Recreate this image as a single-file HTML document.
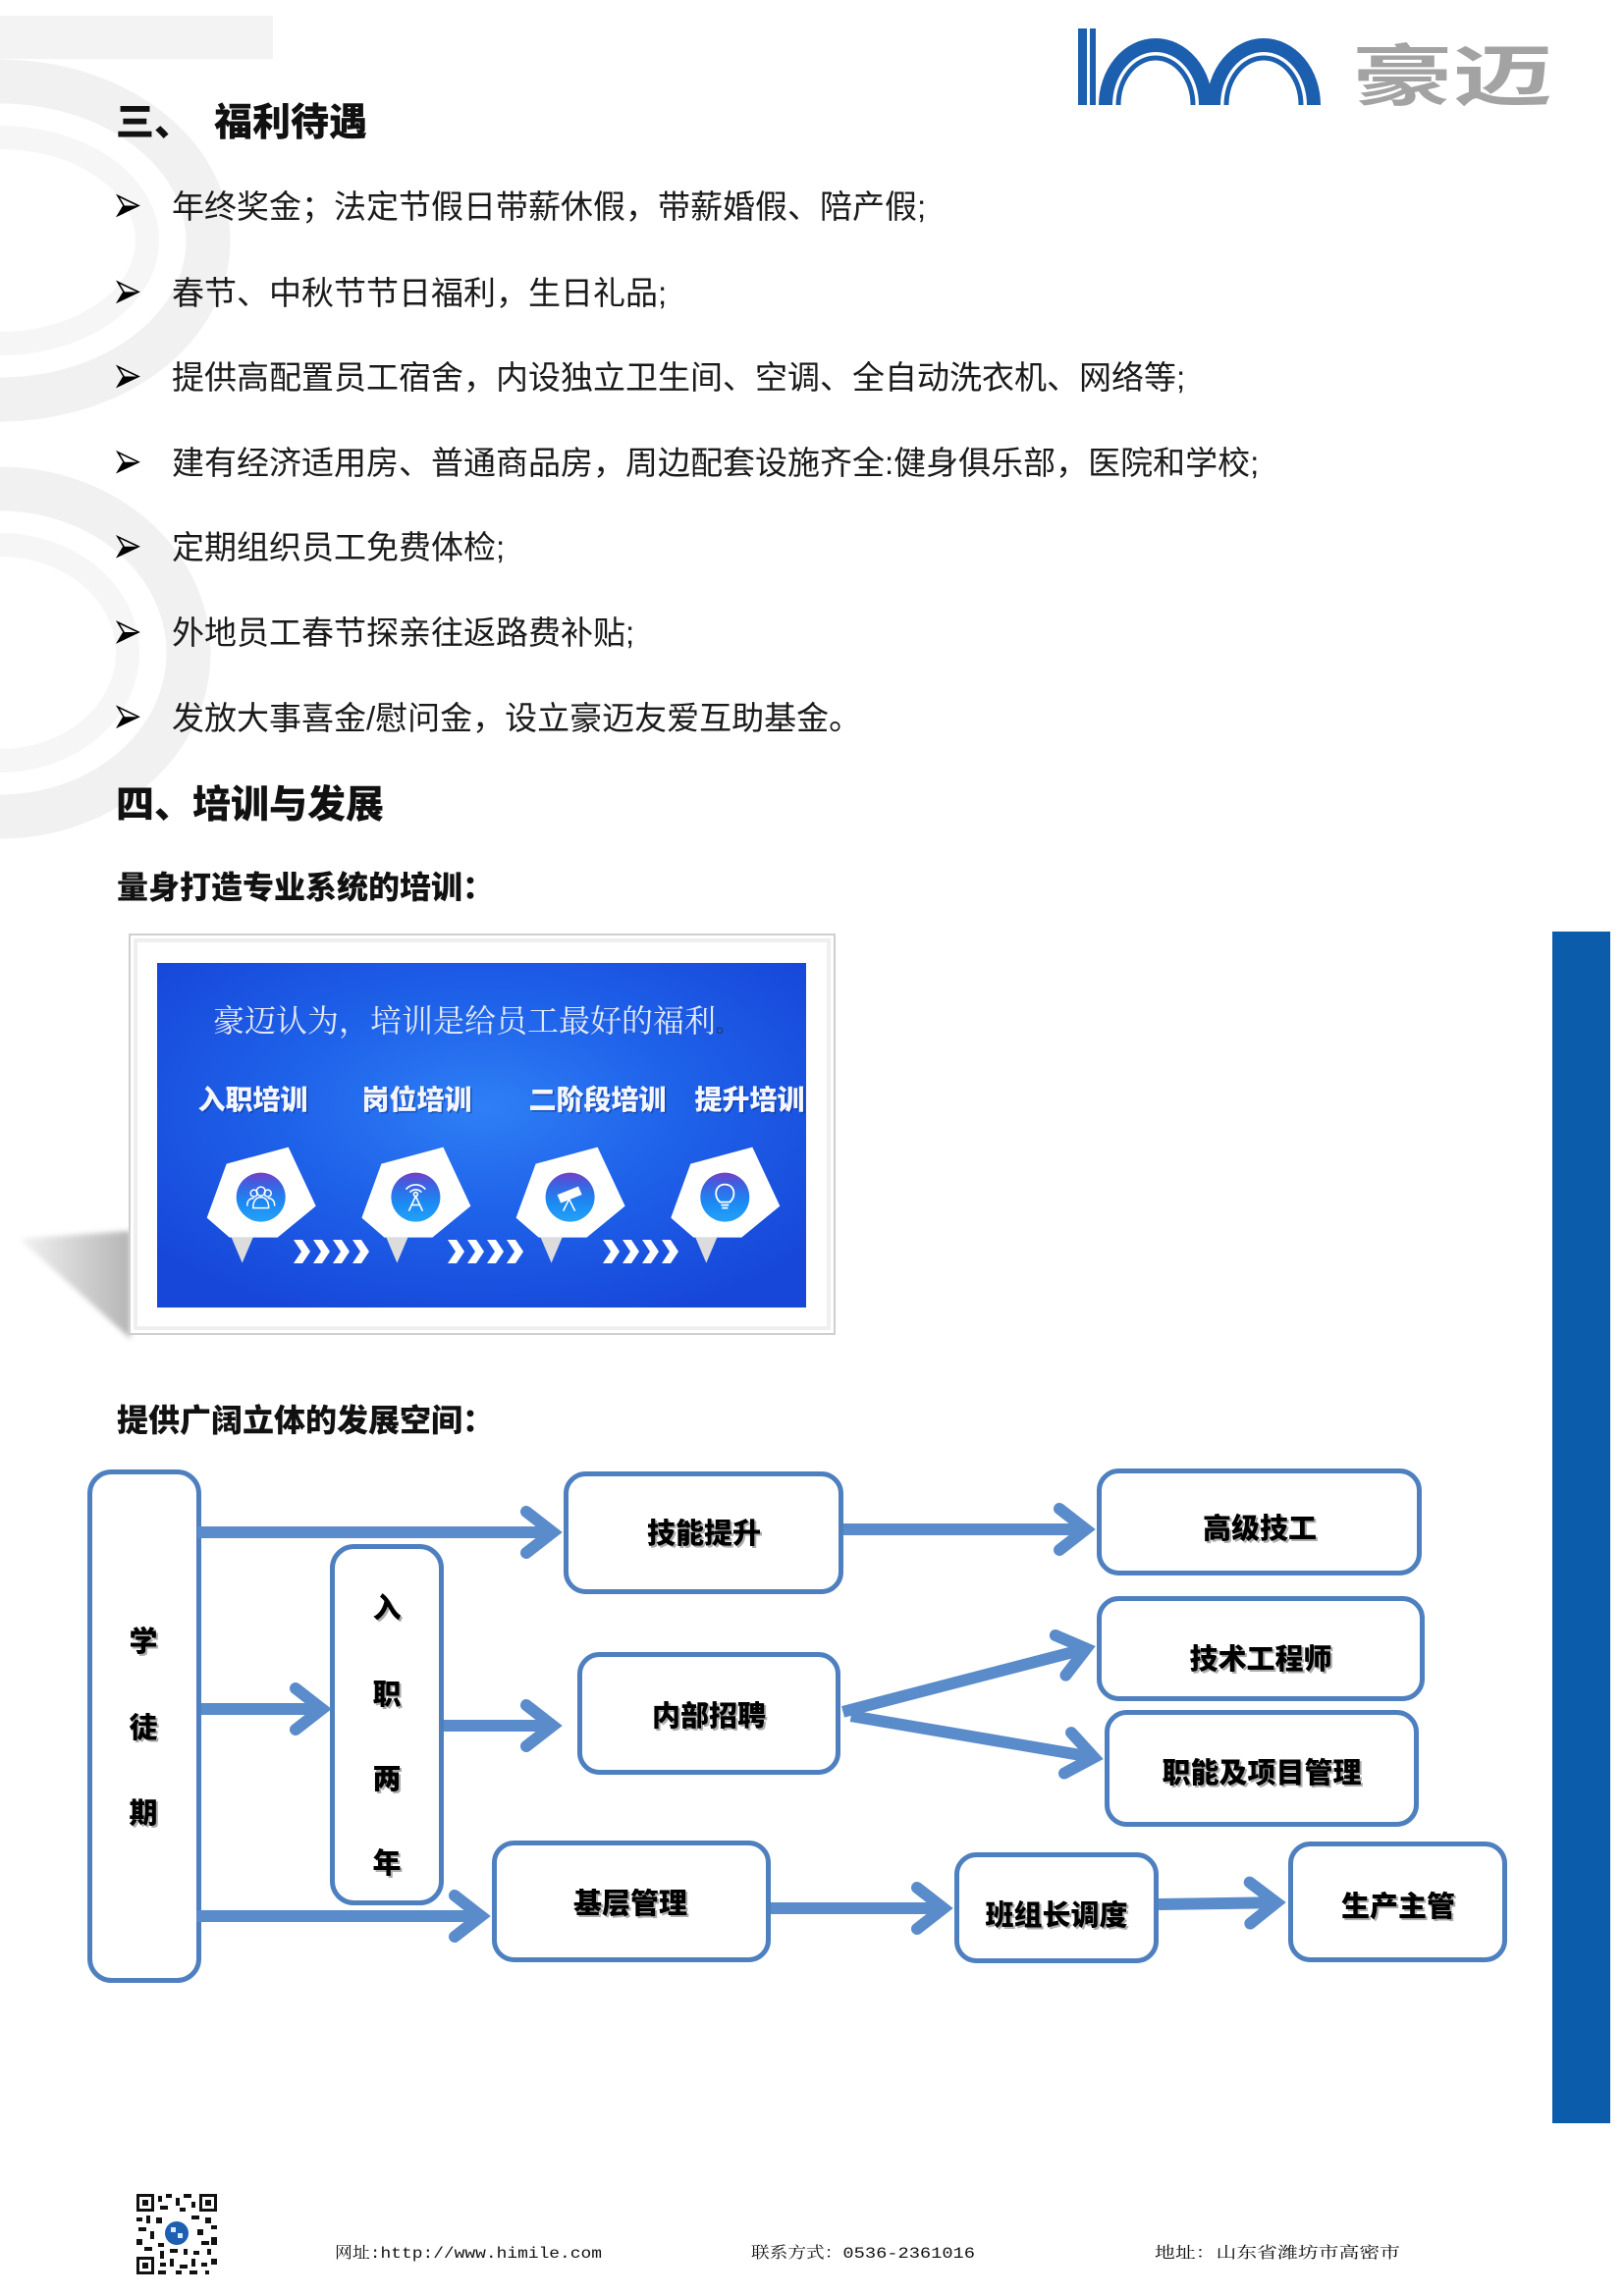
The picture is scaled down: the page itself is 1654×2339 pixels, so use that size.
<!DOCTYPE html>
<html>
<head>
<meta charset="utf-8">
<style>
  html, body { margin:0; padding:0; background:#ffffff; }
  body { width:1654px; height:2339px; overflow:hidden; position:relative; }
  svg { position:absolute; left:0; top:0; }
</style>
</head>
<body>
<svg width="1654" height="2339" viewBox="0 0 1654 2339" xmlns="http://www.w3.org/2000/svg" font-family="'Liberation Sans','Noto Sans CJK SC',sans-serif">
  <defs>
    <radialGradient id="blueBg" cx="50%" cy="42%" r="65%">
      <stop offset="0%" stop-color="#2f7ff6"/>
      <stop offset="45%" stop-color="#1f63ea"/>
      <stop offset="100%" stop-color="#1747d9"/>
    </radialGradient>
    <linearGradient id="circ" x1="0" y1="0" x2="0" y2="1">
      <stop offset="0%" stop-color="#7a3ec6"/>
      <stop offset="22%" stop-color="#3f5fe0"/>
      <stop offset="60%" stop-color="#1b88f3"/>
      <stop offset="100%" stop-color="#24a2f8"/>
    </linearGradient>
    <linearGradient id="shadowG" x1="0" y1="0" x2="1" y2="0">
      <stop offset="0%" stop-color="#f2f2f2"/>
      <stop offset="100%" stop-color="#b5b5b5"/>
    </linearGradient>
    <filter id="blur3"><feGaussianBlur stdDeviation="3"/></filter>
  </defs>

  <!-- background decoration -->
  <rect x="0" y="16" width="278" height="44" fill="#f3f3f3"/>
  <path d="M0,83 A212,162 0 0 1 0,407" fill="none" stroke="#f1f1f1" stroke-width="45"/>
  <path d="M0,140 A150,105 0 0 1 0,350" fill="none" stroke="#f6f6f6" stroke-width="24"/>
  <path d="M0,498 A192,167 0 0 1 0,832" fill="none" stroke="#f1f1f1" stroke-width="45"/>
  <path d="M0,555 A130,110 0 0 1 0,775" fill="none" stroke="#f6f6f6" stroke-width="24"/>

  <!-- logo -->
  <g fill="#1c5fae">
    <rect x="1098" y="29" width="9" height="78"/>
    <rect x="1110" y="29" width="6" height="78"/>
  </g>
  <g fill="none" stroke="#1c5fae">
    <path d="M1126,107 A51,61 0 0 1 1228,107" stroke-width="14"/>
    <path d="M1139,107 A38,48 0 0 1 1215,107" stroke-width="5"/>
    <path d="M1236,107 A51,61 0 0 1 1338,107" stroke-width="14"/>
    <path d="M1249,107 A38,48 0 0 1 1325,107" stroke-width="5"/>
  </g>
  <text x="1377" y="102" font-size="68" font-weight="700" fill="#a3a3a3" textLength="205" lengthAdjust="spacingAndGlyphs">豪迈</text>

  <!-- Section 3 heading -->
  <text x="118" y="138" font-size="39" font-weight="900" fill="#111">三、</text>
  <text x="218" y="138" font-size="39" font-weight="900" fill="#111">福利待遇</text>

  <!-- bullets -->
  <g fill="#1a1a1a" font-size="33">
    <text x="175" y="222">年终奖金；法定节假日带薪休假，带薪婚假、陪产假;</text>
    <text x="175" y="310">春节、中秋节节日福利，生日礼品;</text>
    <text x="175" y="396">提供高配置员工宿舍，内设独立卫生间、空调、全自动洗衣机、网络等;</text>
    <text x="175" y="483">建有经济适用房、普通商品房，周边配套设施齐全:健身俱乐部，医院和学校;</text>
    <text x="175" y="569">定期组织员工免费体检;</text>
    <text x="175" y="656">外地员工春节探亲往返路费补贴;</text>
    <text x="175" y="743">发放大事喜金/慰问金，设立豪迈友爱互助基金。</text>
  </g>
  <g>
    <path d="M120,199.5 L141,209.5 L120,219.5 L126,209.5 Z" fill="none" stroke="#000" stroke-width="1.6" stroke-linejoin="miter"/>
    <path d="M126,209.5 L141,209.5 L120,219.5 Z" fill="#000"/>
    <path d="M120,287.4 L141,297.4 L120,307.4 L126,297.4 Z" fill="none" stroke="#000" stroke-width="1.6"/>
    <path d="M126,297.4 L141,297.4 L120,307.4 Z" fill="#000"/>
    <path d="M120,373.5 L141,383.5 L120,393.5 L126,383.5 Z" fill="none" stroke="#000" stroke-width="1.6"/>
    <path d="M126,383.5 L141,383.5 L120,393.5 Z" fill="#000"/>
    <path d="M120,460.7 L141,470.7 L120,480.7 L126,470.7 Z" fill="none" stroke="#000" stroke-width="1.6"/>
    <path d="M126,470.7 L141,470.7 L120,480.7 Z" fill="#000"/>
    <path d="M120,546.8 L141,556.8 L120,566.8 L126,556.8 Z" fill="none" stroke="#000" stroke-width="1.6"/>
    <path d="M126,556.8 L141,556.8 L120,566.8 Z" fill="#000"/>
    <path d="M120,634 L141,644 L120,654 L126,644 Z" fill="none" stroke="#000" stroke-width="1.6"/>
    <path d="M126,644 L141,644 L120,654 Z" fill="#000"/>
    <path d="M120,720.2 L141,730.2 L120,740.2 L126,730.2 Z" fill="none" stroke="#000" stroke-width="1.6"/>
    <path d="M126,730.2 L141,730.2 L120,740.2 Z" fill="#000"/>
  </g>

  <!-- Section 4 -->
  <text x="118" y="833" font-size="39" font-weight="900" fill="#111">四、培训与发展</text>
  <text x="119" y="915" font-size="32" font-weight="900" fill="#111">量身打造专业系统的培训：</text>

  <!-- training picture -->
  <polygon points="20,1262 133,1254 133,1364" fill="url(#shadowG)" filter="url(#blur3)"/>
  <rect x="132" y="952" width="718" height="407" fill="#ffffff" stroke="#cfcfcf" stroke-width="2"/>
  <rect x="138" y="958" width="706" height="395" fill="none" stroke="#efefef" stroke-width="4"/>
  <rect x="160" y="981" width="661" height="351" fill="url(#blueBg)"/>

  <text x="217" y="1051" font-size="32" font-family="'Liberation Serif','Noto Serif CJK SC',serif" fill="#e4e9f6">豪迈认为，培训是给员工最好的福利<tspan fill="#2a2a2a" font-size="22">。</tspan></text>

  <g font-size="28" font-weight="900" text-anchor="middle">
    <g fill="#0b2a80" opacity="0.5" transform="translate(1.5,1.5)">
      <text x="257.5" y="1130">入职培训</text>
      <text x="424.5" y="1130">岗位培训</text>
      <text x="608.5" y="1130">二阶段培训</text>
      <text x="763.5" y="1130">提升培训</text>
    </g>
    <g fill="#f4f7ff">
      <text x="257.5" y="1130">入职培训</text>
      <text x="424.5" y="1130">岗位培训</text>
      <text x="608.5" y="1130">二阶段培训</text>
      <text x="763.5" y="1130">提升培训</text>
    </g>
  </g>

  <!-- pentagon icons -->
  <g id="ic1" transform="translate(265.7,1219.6)">
    <polygon points="-30,41 -8,41 -19,67" fill="#dcdcdc"/>
    <polygon points="-35,-34 28,-51 56,9 17,41 -32,41 -55,21" fill="#ffffff"/>
    <circle r="25" fill="url(#circ)"/>
    <g fill="none" stroke="#ffffff" stroke-width="1.5">
      <circle cx="-7" cy="-4" r="3.5"/><circle cx="7" cy="-4" r="3.5"/><circle cx="0" cy="-6" r="4.5"/>
      <path d="M-14,9 C-14,2 -10,1 -7,1 M14,9 C14,2 10,1 7,1 M-8,11 C-8,3 -4,0 0,0 C4,0 8,3 8,11 Z"/>
    </g>
  </g>
  <g transform="translate(423.4,1219.6)">
    <polygon points="-30,41 -8,41 -19,67" fill="#dcdcdc"/>
    <polygon points="-35,-34 28,-51 56,9 17,41 -32,41 -55,21" fill="#ffffff"/>
    <circle r="25" fill="url(#circ)"/>
    <g fill="none" stroke="#ffffff" stroke-width="1.6">
      <path d="M-10,-8 A13,13 0 0 1 10,-8 M-6,-5 A8,8 0 0 1 6,-5"/>
      <circle cx="0" cy="-3" r="2"/>
      <path d="M0,-1 L-7,14 M0,-1 L7,14 M-4,8 L4,8"/>
    </g>
  </g>
  <g transform="translate(580.6,1219.6)">
    <polygon points="-30,41 -8,41 -19,67" fill="#dcdcdc"/>
    <polygon points="-35,-34 28,-51 56,9 17,41 -32,41 -55,21" fill="#ffffff"/>
    <circle r="25" fill="url(#circ)"/>
    <g fill="#ffffff" stroke="#ffffff" stroke-width="1.6">
      <path d="M-12,-2 L8,-10 L11,-3 L-9,5 Z"/>
      <path d="M-1,2 L-7,14 M-1,2 L5,14" fill="none"/>
    </g>
  </g>
  <g transform="translate(738.3,1219.6)">
    <polygon points="-30,41 -8,41 -19,67" fill="#dcdcdc"/>
    <polygon points="-35,-34 28,-51 56,9 17,41 -32,41 -55,21" fill="#ffffff"/>
    <circle r="25" fill="url(#circ)"/>
    <g fill="none" stroke="#ffffff" stroke-width="1.8">
      <path d="M-5,5 C-12,-1 -10,-13 0,-13 C10,-13 12,-1 5,5 Z"/>
      <path d="M-4,8 H4 M-3,11 H3"/>
    </g>
  </g>

  <!-- chevrons -->
  <g fill="#ffffff">
    <polygon points="299,1263 308,1263 316,1275 308,1287 299,1287 307,1275"/>
    <polygon points="319,1263 328,1263 336,1275 328,1287 319,1287 327,1275"/>
    <polygon points="339,1263 348,1263 356,1275 348,1287 339,1287 347,1275"/>
    <polygon points="359,1263 368,1263 376,1275 368,1287 359,1287 367,1275"/>
    <polygon points="456,1263 465,1263 473,1275 465,1287 456,1287 464,1275"/>
    <polygon points="476,1263 485,1263 493,1275 485,1287 476,1287 484,1275"/>
    <polygon points="496,1263 505,1263 513,1275 505,1287 496,1287 504,1275"/>
    <polygon points="516,1263 525,1263 533,1275 525,1287 516,1287 524,1275"/>
    <polygon points="614,1263 623,1263 631,1275 623,1287 614,1287 622,1275"/>
    <polygon points="634,1263 643,1263 651,1275 643,1287 634,1287 642,1275"/>
    <polygon points="654,1263 663,1263 671,1275 663,1287 654,1287 662,1275"/>
    <polygon points="674,1263 683,1263 691,1275 683,1287 674,1287 682,1275"/>
  </g>

  <text x="119" y="1458" font-size="32" font-weight="900" fill="#111">提供广阔立体的发展空间：</text>

  <!-- right blue bar -->
  <rect x="1581" y="949" width="59" height="1214" fill="#0b5cab"/>

  <!-- diagram boxes -->
  <g fill="#ffffff" stroke="#4e80c0" stroke-width="5">
    <rect x="91.5" y="1499.5" width="111" height="518" rx="22"/>
    <rect x="338.5" y="1575.5" width="111" height="363" rx="22"/>
    <rect x="576.5" y="1501.5" width="280" height="120" rx="20"/>
    <rect x="1119.5" y="1498.5" width="326" height="104" rx="20"/>
    <rect x="1119.5" y="1628.5" width="329" height="102" rx="20"/>
    <rect x="590.5" y="1685.5" width="263" height="120" rx="20"/>
    <rect x="1127.5" y="1744.5" width="315" height="114" rx="20"/>
    <rect x="503.5" y="1877.5" width="279" height="119" rx="20"/>
    <rect x="974.5" y="1889.5" width="203" height="108" rx="20"/>
    <rect x="1314.5" y="1878.5" width="218" height="118" rx="20"/>
  </g>

  <!-- arrows -->
  <g stroke="#5a8bcb" fill="none" stroke-width="12">
    <g transform="translate(573,1561)"><line x1="-372" y1="0" x2="-14" y2="0"/><polyline points="-37,-21 -10,0 -37,21" stroke-linejoin="miter" stroke-linecap="round"/></g>
    <g transform="translate(338,1741)"><line x1="-133" y1="0" x2="-14" y2="0"/><polyline points="-37,-21 -10,0 -37,21" stroke-linejoin="miter" stroke-linecap="round"/></g>
    <g transform="translate(573,1758)"><line x1="-121" y1="0" x2="-14" y2="0"/><polyline points="-37,-21 -10,0 -37,21" stroke-linejoin="miter" stroke-linecap="round"/></g>
    <g transform="translate(500,1952)"><line x1="-300" y1="0" x2="-14" y2="0"/><polyline points="-37,-21 -10,0 -37,21" stroke-linejoin="miter" stroke-linecap="round"/></g>
    <g transform="translate(1116,1558)"><line x1="-257" y1="0" x2="-14" y2="0"/><polyline points="-37,-21 -10,0 -37,21" stroke-linejoin="miter" stroke-linecap="round"/></g>
    <g transform="translate(1116,1677) rotate(-14.56)"><line x1="-266" y1="0" x2="-14" y2="0"/><polyline points="-37,-21 -10,0 -37,21" stroke-linejoin="miter" stroke-linecap="round"/></g>
    <g transform="translate(1124,1792) rotate(9.68)"><line x1="-261" y1="0" x2="-14" y2="0"/><polyline points="-37,-21 -10,0 -37,21" stroke-linejoin="miter" stroke-linecap="round"/></g>
    <g transform="translate(971,1944)"><line x1="-186" y1="0" x2="-14" y2="0"/><polyline points="-37,-21 -10,0 -37,21" stroke-linejoin="miter" stroke-linecap="round"/></g>
    <g transform="translate(1310,1938) rotate(-0.9)"><line x1="-130" y1="0" x2="-14" y2="0"/><polyline points="-37,-21 -10,0 -37,21" stroke-linejoin="miter" stroke-linecap="round"/></g>
  </g>

  <!-- diagram labels -->
  <g font-size="29" font-weight="900" text-anchor="middle">
    <g fill="#8a8a8a" opacity="0.7" transform="translate(2,2)">
      <text x="717" y="1572">技能提升</text>
      <text x="1283" y="1567">高级技工</text>
      <text x="1284" y="1700">技术工程师</text>
      <text x="722" y="1758">内部招聘</text>
      <text x="1285" y="1816">职能及项目管理</text>
      <text x="642" y="1949">基层管理</text>
      <text x="1076" y="1961">班组长调度</text>
      <text x="1424" y="1952">生产主管</text>
      <text x="146" y="1682">学</text>
      <text x="146" y="1770">徒</text>
      <text x="146" y="1857">期</text>
      <text x="394" y="1648">入</text>
      <text x="394" y="1736">职</text>
      <text x="394" y="1822">两</text>
      <text x="394" y="1908">年</text>
    </g>
    <g fill="#000000">
      <text x="717" y="1572">技能提升</text>
      <text x="1283" y="1567">高级技工</text>
      <text x="1284" y="1700">技术工程师</text>
      <text x="722" y="1758">内部招聘</text>
      <text x="1285" y="1816">职能及项目管理</text>
      <text x="642" y="1949">基层管理</text>
      <text x="1076" y="1961">班组长调度</text>
      <text x="1424" y="1952">生产主管</text>
      <text x="146" y="1682">学</text>
      <text x="146" y="1770">徒</text>
      <text x="146" y="1857">期</text>
      <text x="394" y="1648">入</text>
      <text x="394" y="1736">职</text>
      <text x="394" y="1822">两</text>
      <text x="394" y="1908">年</text>
    </g>
  </g>

  <!-- footer QR code (approximation) -->
  <g transform="translate(139,2235)">
    <rect x="0" y="0" width="82" height="82" fill="#ffffff"/>
    <g fill="#111">
      <rect x="0" y="0" width="18" height="18"/><rect x="3" y="3" width="12" height="12" fill="#fff"/><rect x="6" y="6" width="6" height="6"/>
      <rect x="64" y="0" width="18" height="18"/><rect x="67" y="3" width="12" height="12" fill="#fff"/><rect x="70" y="6" width="6" height="6"/>
      <rect x="0" y="64" width="18" height="18"/><rect x="3" y="67" width="12" height="12" fill="#fff"/><rect x="6" y="70" width="6" height="6"/>
      <rect x="22" y="2" width="4" height="6"/><rect x="30" y="0" width="6" height="4"/><rect x="40" y="4" width="4" height="8"/><rect x="48" y="0" width="8" height="4"/><rect x="56" y="8" width="4" height="6"/>
      <rect x="24" y="12" width="8" height="4"/><rect x="44" y="14" width="6" height="4"/>
      <rect x="0" y="24" width="6" height="4"/><rect x="10" y="22" width="4" height="8"/><rect x="20" y="24" width="6" height="6"/><rect x="56" y="22" width="8" height="4"/><rect x="70" y="24" width="6" height="6"/><rect x="76" y="32" width="6" height="4"/>
      <rect x="2" y="34" width="8" height="4"/><rect x="14" y="38" width="4" height="8"/><rect x="62" y="36" width="6" height="6"/>
      <rect x="0" y="46" width="6" height="6"/><rect x="22" y="50" width="6" height="4"/><rect x="66" y="48" width="8" height="4"/><rect x="76" y="44" width="6" height="8"/>
      <rect x="8" y="54" width="8" height="4"/><rect x="24" y="58" width="4" height="8"/><rect x="34" y="56" width="8" height="4"/><rect x="48" y="56" width="4" height="6"/><rect x="58" y="58" width="6" height="4"/><rect x="72" y="56" width="4" height="6"/>
      <rect x="24" y="70" width="6" height="4"/><rect x="34" y="66" width="4" height="8"/><rect x="44" y="72" width="8" height="4"/><rect x="56" y="66" width="4" height="8"/><rect x="66" y="70" width="6" height="4"/><rect x="76" y="66" width="6" height="6"/>
      <rect x="22" y="78" width="8" height="4"/><rect x="40" y="78" width="6" height="4"/><rect x="54" y="78" width="8" height="4"/><rect x="70" y="78" width="4" height="4"/>
    </g>
    <circle cx="41" cy="40" r="12" fill="#1d5fb0"/>
    <rect x="35" y="34" width="5" height="5" fill="#dfe8f5"/><rect x="42" y="40" width="5" height="5" fill="#dfe8f5"/>
  </g>

  <!-- footer text -->
  <g font-family="'Liberation Mono','Noto Serif CJK SC',monospace" font-size="16" fill="#111">
    <text x="341" y="2300" textLength="272" lengthAdjust="spacingAndGlyphs">网址:http://www.himile.com</text>
    <text x="765" y="2300" textLength="228" lengthAdjust="spacingAndGlyphs">联系方式：0536-2361016</text>
    <text x="1176" y="2300" textLength="250" lengthAdjust="spacingAndGlyphs">地址：山东省潍坊市高密市</text>
  </g>
</svg>
</body>
</html>
